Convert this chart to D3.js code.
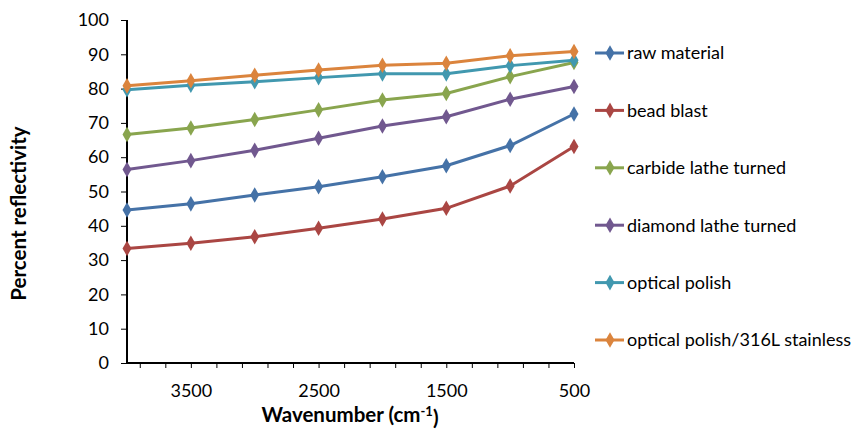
<!DOCTYPE html>
<html>
<head>
<meta charset="utf-8">
<script src="https://cdn.jsdelivr.net/npm/d3@7"></script>
<style>
  body { margin: 0; background: white; }
  svg { display: block; }
</style>
</head>
<body>
<div id="chart"></div>
<script>
// chart data
const wavenumbers = [4000, 3500, 3000, 2500, 2000, 1500, 1000, 500];
const seriesNames = ["raw material", "bead blast", "carbide lathe turned",
                     "diamond lathe turned", "optical polish", "optical polish/316L stainless"];
const rawMaterial = [44.6, 46.4, 49.0, 51.4, 54.3, 57.5, 63.4, 72.6];
const beadBlast = [33.4, 34.9, 36.8, 39.3, 42.0, 45.1, 51.6, 63.1];
const carbideLathe = [66.6, 68.5, 71.0, 73.8, 76.7, 78.6, 83.5, 87.6];
const diamondLathe = [56.4, 59.0, 62.0, 65.5, 69.1, 71.8, 76.9, 80.6];
const opticalPolish = [79.7, 81.0, 82.0, 83.2, 84.3, 84.3, 86.7, 88.3];
const optical316L = [80.8, 82.3, 83.9, 85.4, 86.8, 87.4, 89.6, 90.8];
const yTicks = [0, 10, 20, 30, 40, 50, 60, 70, 80, 90, 100];
const xLabels = [3500, 2500, 1500, 500];
const xMinorTicks = d3.range(500, 4000, 200);

const allSeries = [rawMaterial, beadBlast, carbideLathe, diamondLathe, opticalPolish, optical316L];
const colors = ["#4572A7", "#AA4643", "#89A54E", "#71588F", "#4198AF", "#DB843D"];

const width = 856, height = 430;
const fontFamily = "Lato, 'Open Sans', sans-serif";
const fontSize = "18px";
const fontTitle = "20.5px";
const margin = {left: 127, right: 282, top: 20, bottom: 67};

const svg = d3.select("#chart").append("svg")
  .attr("width", width)
  .attr("height", height);

// scales (x axis runs from high to low wavenumber)
const x = d3.scaleLinear()
  .domain([4000, 500])
  .range([margin.left, width - margin.right]);

const y = d3.scaleLinear()
  .domain([0, 100])
  .range([height - margin.bottom, margin.top]);

// y axis
svg.append("g")
  .attr("transform", `translate(${margin.left},0)`)
  .call(d3.axisLeft(y).tickValues(yTicks).tickSize(6).tickPadding(12))
  .call(g => g.selectAll("path, line").attr("stroke", "black"))
  .call(g => g.select(".domain").attr("stroke-width", 2).attr("d", `M0,${y(100)}V${y(0)}`))
  .call(g => g.selectAll(".tick text")
    .style("font-family", fontFamily).style("font-size", fontSize).attr("fill", "#000"));

// x axis: minor ticks every 200, labels every 1000
svg.append("g")
  .attr("transform", `translate(0,${y(0)})`)
  .call(d3.axisBottom(x).tickValues(xMinorTicks).tickSize(5).tickFormat(""))
  .call(g => g.selectAll("line").attr("stroke", "black"))
  .call(g => g.select(".domain").attr("stroke", "black").attr("stroke-width", 2)
    .attr("d", `M${x(4000)},0H${x(500)}`));

svg.append("g")
  .attr("transform", `translate(0,${y(0)})`)
  .call(d3.axisBottom(x).tickValues(xLabels).tickSize(0).tickPadding(21).tickFormat(d3.format("d")))
  .call(g => g.select(".domain").remove())
  .call(g => g.selectAll(".tick text")
    .style("font-family", fontFamily).style("font-size", fontSize).attr("fill", "#000"));

// lines and diamond markers
const line = d3.line()
  .x((d, i) => x(wavenumbers[i]))
  .y(d => y(d));

const diamond = d3.symbol().type(d3.symbolDiamond).size(70);

allSeries.forEach(function(values, k) {
  svg.append("path")
    .datum(values)
    .attr("fill", "none")
    .attr("stroke", colors[k])
    .attr("stroke-width", 3)
    .attr("d", line);

  svg.append("g")
    .selectAll("path")
    .data(values)
    .join("path")
      .attr("transform", (d, i) => `translate(${x(wavenumbers[i])},${y(d)})`)
      .attr("d", diamond)
      .attr("fill", colors[k]);
});

// legend
const legend = svg.append("g")
  .attr("transform", "translate(595,53)");

seriesNames.forEach(function(name, k) {
  const row = legend.append("g").attr("transform", `translate(0,${k * 57.4})`);
  row.append("line")
    .attr("x1", 0).attr("x2", 29)
    .attr("stroke", colors[k]).attr("stroke-width", 3);
  row.append("path")
    .attr("transform", "translate(15,0)")
    .attr("d", diamond)
    .attr("fill", colors[k]);
  row.append("text")
    .attr("x", 32)
    .attr("dy", "0.35em")
    .style("font-family", fontFamily)
    .style("font-size", fontSize)
    .attr("fill", "#000")
    .text(name);
});

// axis titles
svg.append("text")
  .attr("transform", `translate(26,${(y(0) + y(100)) / 2 + 22}) rotate(-90)`)
  .attr("text-anchor", "middle")
  .style("font-family", fontFamily)
  .style("font-size", fontTitle)
  .style("font-weight", "bold")
  .text("Percent reflectivity");

const xTitle = svg.append("text")
  .attr("x", 350)
  .attr("y", 422)
  .attr("text-anchor", "middle")
  .style("font-family", fontFamily)
  .style("font-size", fontTitle)
  .style("font-weight", "bold");
xTitle.append("tspan").text("Wavenumber (cm");
xTitle.append("tspan").attr("dy", "-0.45em").style("font-size", "13px").text("-1");
xTitle.append("tspan").attr("dy", "0.45em").text(")");
</script>
</body>
</html>
